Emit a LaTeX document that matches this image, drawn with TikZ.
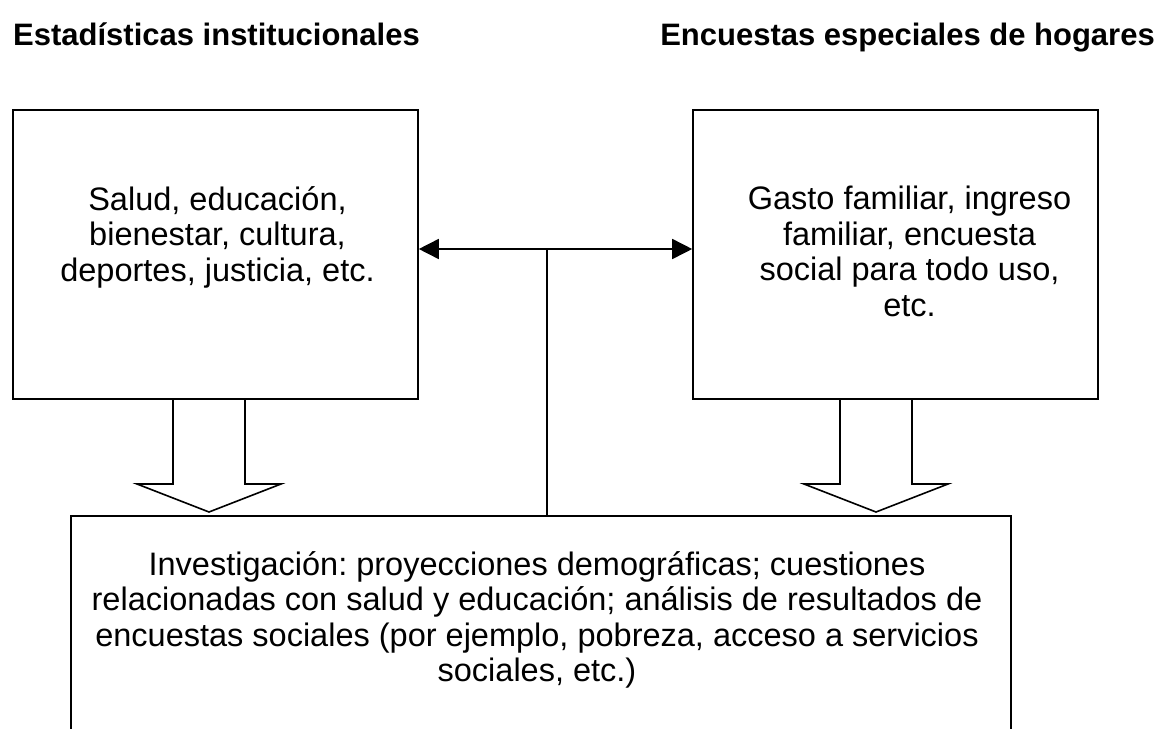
\documentclass[tikz,border=0pt]{standalone}
\usepackage{fontspec}
\setmainfont{Liberation Sans}
\usetikzlibrary{positioning}
\usetikzlibrary{calc}
\usetikzlibrary{arrows.meta}
\frenchspacing
\tikzstyle{block}=[rectangle, draw=black, line width=1.6pt, inner sep=0pt]
\tikzstyle{heading}=[font=\fontsize{31}{37}\selectfont\bfseries, inner sep=0pt]
\tikzstyle{boxtext}=[font=\fontsize{32.5}{35.5}\selectfont, align=center,
  inner sep=0pt]
\tikzstyle{fatarrow}=[draw=black, line width=1.6pt, line join=miter]
\tikzstyle{link}=[draw=black, line width=1.6pt]

\begin{document}
\begin{tikzpicture}[x=1pt, y=-1pt,
  >={Triangle[length=20pt, width=20pt]}]
\useasboundingbox (0,0) rectangle (1158,728);
\clip (0,0) rectangle (1158,728);

\node[heading, anchor=base west] at (13,45) (insthead) {Estadísticas institucionales};
\node[heading, anchor=base east] at (1155,45) (hoghead) {Encuestas especiales de hogares};

\node[block, minimum width=405pt, minimum height=289pt] at (215.5,254.5) (inst) {};
\node[block, minimum width=405pt, minimum height=289pt] at (895.5,254.5) (hog) {};
\node[block, minimum width=940pt, minimum height=230pt, anchor=north] at (541,515) (inv) {};

\node[boxtext, below=77pt of inst.north, xshift=2pt] (insttext)
  {Salud, educación,\\ bienestar, cultura,\\ deportes, justicia, etc.};
\node[boxtext, below=77pt of hog.north, xshift=14pt] (hogtext)
  {Gasto familiar, ingreso\\ familiar, encuesta\\ social para todo uso,\\ etc.};
\node[boxtext, below=36pt of inv.north, xshift=-4pt] (invtext)
  {Investigación: proyecciones demográficas; cuestiones\\
   relacionadas con salud y educación; análisis de resultados de\\
   encuestas sociales (por ejemplo, pobreza, acceso a servicios\\
   sociales, etc.)};

% fat arrows down to the research box
\coordinate (insttip) at (209,512);
\coordinate (hogtip) at (876,512);
\draw[fatarrow] ($(insttip |- inst.south)+(-36,0)$) -- ($(insttip)+(-36,-28)$)
  -- ($(insttip)+(-72,-28)$) -- (insttip) -- ($(insttip)+(72,-28)$)
  -- ($(insttip)+(36,-28)$) -- ($(insttip |- inst.south)+(36,0)$);
\draw[fatarrow] ($(hogtip |- hog.south)+(-36,0)$) -- ($(hogtip)+(-36,-28)$)
  -- ($(hogtip)+(-72,-28)$) -- (hogtip) -- ($(hogtip)+(72,-28)$)
  -- ($(hogtip)+(36,-28)$) -- ($(hogtip |- hog.south)+(36,0)$);

% link between the two sources
\coordinate (junc) at (547,249);
\draw[link, <->] (inst.east |- junc) -- (hog.west |- junc);
\draw[link] (junc) -- (junc |- inv.north);

\end{tikzpicture}
\end{document}
